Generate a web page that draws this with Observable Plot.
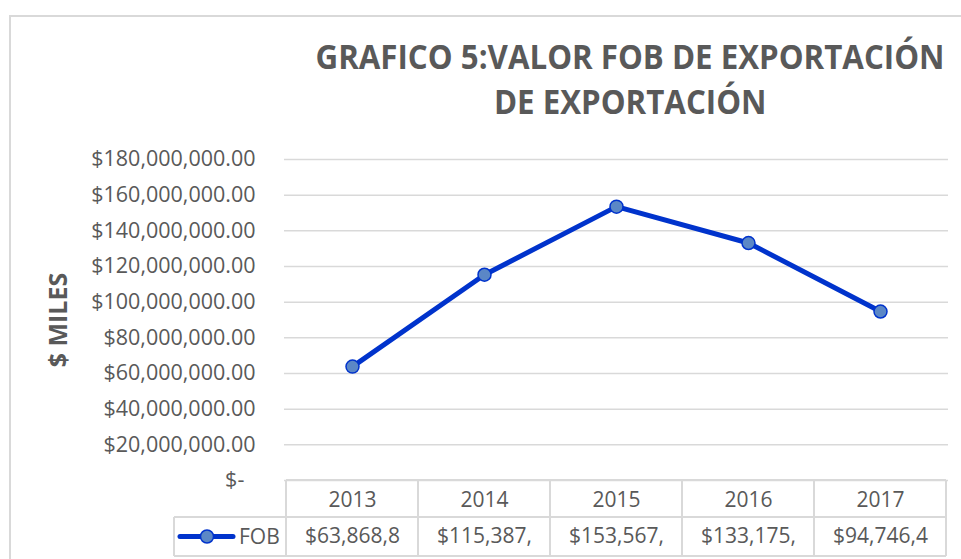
<!DOCTYPE html>
<html>
<head>
<meta charset="utf-8">
<script src="https://cdn.jsdelivr.net/npm/d3@7"></script>
<script src="https://cdn.jsdelivr.net/npm/@observablehq/plot@0.6"></script>
<style>
  body { margin: 0; background: #fff; }
  #wrap { position: relative; width: 961px; height: 559px; overflow: hidden; font-family: "Open Sans", sans-serif; }
  #frame { position: absolute; left: 9px; top: 15px; width: 1000px; height: 600px; border-left: 2px solid #d9d9d9; border-top: 2px solid #d9d9d9; box-sizing: border-box; z-index: 2; pointer-events: none; }
  #title { position: relative; height: 140px; }
  #title .row { position: absolute; left: 230px; width: 800px; text-align: center; }
  #title .tl { display: inline-block; font-weight: bold; font-size: 34px; color: #595959; white-space: nowrap; transform-origin: 50% 50%; line-height: 1; }
  #chart svg { display: block; }
</style>
</head>
<body>
<div id="wrap">
  <div id="frame"></div>
  <div id="title">
    <div class="row" style="top:39px"><span class="tl">GRAFICO 5:VALOR FOB DE EXPORTACIÓN</span></div>
    <div class="row" style="top:84px"><span class="tl">DE EXPORTACIÓN</span></div>
  </div>
  <div id="chart"></div>
</div>
<script>
// ---- data ----
const years = ["2013", "2014", "2015", "2016", "2017"];
const fob = [63868800, 115387000, 153567000, 133175000, 94746400];
const yTicks = [0, 20e6, 40e6, 60e6, 80e6, 100e6, 120e6, 140e6, 160e6, 180e6];
const seriesName = "FOB";
const yTitle = "$ MILES";

// ---- title width fit ----
function fitTitle() {
  const tls = document.querySelectorAll("#title .tl");
  tls.forEach(t => t.style.transform = "none");
  const w0 = tls[0].getBoundingClientRect().width;
  const k = 629 / w0;
  tls.forEach(t => t.style.transform = `scaleX(${k})`);
}
fitTitle();
if (document.fonts && document.fonts.ready) document.fonts.ready.then(fitTitle);

const data = years.map((y, i) => ({year: y, value: fob[i]}));
const gray = "#595959";
const fmtTick = d => d === 0 ? "$-\u00a0\u00a0" : "$" + d3.format(",.2f")(d);
const fmtCell = v => d3.format("$,.2f")(v).slice(0, 9);

const chart = Plot.plot({
  width: 961, height: 419,
  marginTop: 19, marginBottom: 79, marginLeft: 284, marginRight: 13,
  style: {fontFamily: '"Open Sans", sans-serif', color: gray, background: "transparent", overflow: "visible"},
  x: {type: "point", domain: years, padding: 0.5, axis: null},
  y: {domain: [0, 180e6], axis: null},
  marks: [
    Plot.gridY(yTicks, {stroke: "#d9d9d9", strokeOpacity: 1, strokeWidth: 1.5}),
    Plot.axisY(yTicks, {tickSize: 0, tickPadding: 29, tickFormat: fmtTick, fontSize: 21.5, fill: gray, label: null}),
    Plot.axisX(years, {tickSize: 0, tickPadding: 12, fontSize: 21, fill: gray, label: null}),
    Plot.text(data, {x: "year", frameAnchor: "bottom", dy: 62, text: d => fmtCell(d.value), fontSize: 21, fill: gray}),
    Plot.text([yTitle], {frameAnchor: "left", textAnchor: "middle", dx: -226, rotate: -90, fontSize: 25, fontWeight: "bold", fill: gray}),
    Plot.line(data, {x: "year", y: "value", stroke: "#0033cc", strokeWidth: 5}),
    Plot.dot(data, {x: "year", y: "value", r: 6.5, fill: "#5b87c6", stroke: "#0033cc", strokeWidth: 1.5})
  ]
});
document.getElementById("chart").appendChild(chart);

// ---- data table grid + legend key, aligned on the x scale ----
const sx = chart.scale("x"), sy = chart.scale("y");
const step = sx.step;
const tTop = sy.apply(0);
const r1 = tTop + 37, r2 = r1 + 39;
const tLeft = sx.apply(years[0]) - step / 2;
const tRight = sx.apply(years[years.length - 1]) + step / 2;
const legLeft = tLeft - 112;
const svg = d3.select(chart);
const g = svg.insert("g", ":first-child").attr("stroke", "#d9d9d9").attr("stroke-width", 2).attr("fill", "none");
const seg = (x1, y1, x2, y2) => g.append("line").attr("x1", x1).attr("y1", y1).attr("x2", x2).attr("y2", y2);
seg(tLeft, tTop, tRight, tTop);
seg(legLeft, r1, tRight, r1);
seg(legLeft, r2, tRight, r2);
seg(legLeft, r1, legLeft, r2);
years.forEach(y => seg(sx.apply(y) - step / 2, tTop, sx.apply(y) - step / 2, r2));
seg(tRight, tTop, tRight, r2);

const ly = (r1 + r2) / 2;
const lg = svg.append("g");
lg.append("line").attr("x1", legLeft + 6).attr("x2", legLeft + 59).attr("y1", ly).attr("y2", ly)
  .attr("stroke", "#0033cc").attr("stroke-width", 5).attr("stroke-linecap", "round");
lg.append("circle").attr("cx", legLeft + 33).attr("cy", ly).attr("r", 6.5)
  .attr("fill", "#5b87c6").attr("stroke", "#0033cc").attr("stroke-width", 1.5);
lg.append("text").attr("x", legLeft + 65).attr("y", ly).attr("dy", "0.35em")
  .attr("text-anchor", "start").attr("font-size", 21).attr("fill", gray).text(seriesName);
</script>
</body>
</html>
